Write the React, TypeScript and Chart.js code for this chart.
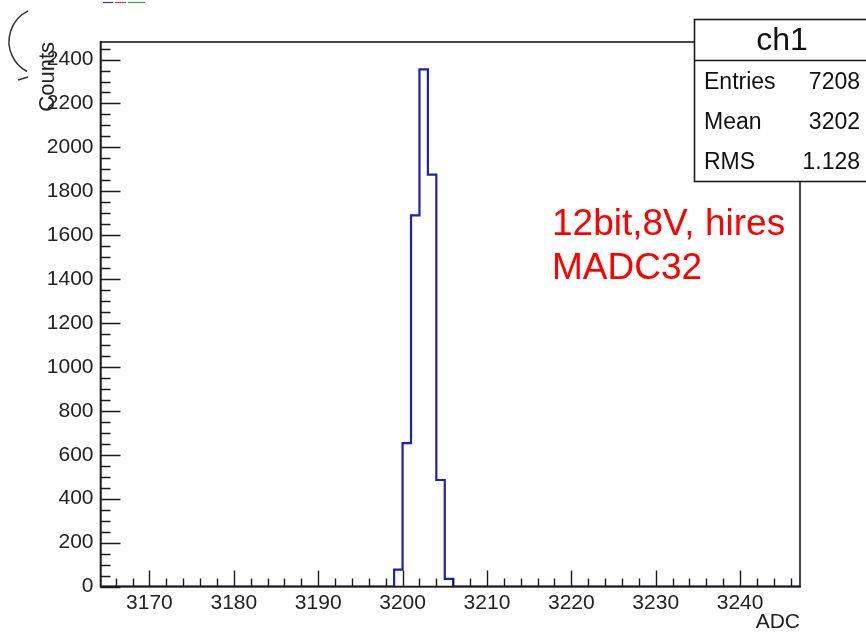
import React, { useEffect, useRef } from 'react';
import { Chart, registerables } from 'chart.js';

Chart.register(...registerables);

// ---- data ----
const binLowEdges = [3199, 3200, 3201, 3202, 3203, 3204, 3205];
const binCounts = [77, 653, 1690, 2355, 1876, 485, 35];
const binWidth = 1;
const xMin = 3164.2;
const xMax = 3247.1;
const yMin = 0;
const yMax = 2480;
const xMajorStep = 10;
const xMinorStep = 2;
const yMajorStep = 200;
const yMinorStep = 50;
const xTitle = 'ADC';
const yTitle = 'Counts';
const statsTitle = 'ch1';
const statsLabels = ['Entries', 'Mean', 'RMS'];
const statsValues = ['7208', '3202', '1.128'];
const noteLines = ['12bit,8V, hires', 'MADC32'];

const FONT = '"Liberation Sans", Arial, Helvetica, sans-serif';
const AXIS = '#1a1a1a';

const rootPlugin = {
  id: 'rootDecor',
  afterDraw(chart: any) {
    const { ctx, chartArea } = chart;
    const xs = chart.scales.x;
    const ys = chart.scales.y;
    const { left, right, top, bottom } = chartArea;
    ctx.save();
    // frame
    ctx.strokeStyle = AXIS;
    ctx.lineWidth = 1.6;
    ctx.strokeRect(left, top, right - left, bottom - top);
    // ticks (inward)
    ctx.lineWidth = 1.4;
    ctx.beginPath();
    const xStart = Math.ceil(xMin / xMinorStep) * xMinorStep;
    for (let v = xStart; v <= xMax; v += xMinorStep) {
      const px = Math.round(xs.getPixelForValue(v)) + 0.5;
      const major = Math.abs(v % xMajorStep) < 1e-6;
      const len = major ? 16 : 8;
      ctx.moveTo(px, bottom);
      ctx.lineTo(px, bottom - len);
    }
    for (let v = yMin; v <= yMax; v += yMinorStep) {
      const py = Math.round(ys.getPixelForValue(v)) + 0.5;
      const major = Math.abs(v % yMajorStep) < 1e-6;
      const len = major ? 20 : 10;
      ctx.moveTo(left, py);
      ctx.lineTo(left + len, py);
    }
    ctx.stroke();

    // stats box
    const bx = 694.5, by = 19.5, bw = 190, bh = 162, div = 60.5;
    ctx.fillStyle = '#ffffff';
    ctx.fillRect(bx, by, bw, bh);
    ctx.lineWidth = 1.6;
    ctx.strokeStyle = AXIS;
    ctx.strokeRect(bx, by, bw, bh);
    ctx.beginPath();
    ctx.moveTo(bx, div);
    ctx.lineTo(bx + bw, div);
    ctx.stroke();
    ctx.fillStyle = '#111';
    ctx.textBaseline = 'alphabetic';
    ctx.font = `32px ${FONT}`;
    ctx.textAlign = 'center';
    ctx.fillText(statsTitle, 782, 50);
    ctx.font = `23px ${FONT}`;
    const rowBase = [89, 129, 169];
    statsLabels.forEach((l, i) => {
      ctx.textAlign = 'left';
      ctx.fillText(l, 704, rowBase[i]);
      ctx.textAlign = 'right';
      ctx.fillText(statsValues[i], 860, rowBase[i]);
    });

    // red note
    ctx.fillStyle = '#ff0000';
    ctx.font = `37px ${FONT}`;
    ctx.textAlign = 'left';
    ctx.fillText(noteLines[0], 552, 235);
    ctx.fillText(noteLines[1], 552, 279);

    // cropped-slide artifacts
    ctx.strokeStyle = '#333';
    ctx.lineWidth = 1.5;
    ctx.beginPath();
    ctx.arc(43, 41.5, 34, (-116 * Math.PI) / 180, (118 * Math.PI) / 180, true);
    ctx.stroke();
    ctx.beginPath();
    ctx.moveTo(18, 80);
    ctx.lineTo(28, 77);
    ctx.stroke();
    ctx.lineWidth = 1.2;
    const dashes: [number, number, string][] = [
      [103, 113, '#3a3aa0'],
      [115, 126, '#d04040'],
      [128, 145, '#40a040'],
    ];
    dashes.forEach(([a, b, c]) => {
      ctx.strokeStyle = c;
      ctx.beginPath();
      ctx.moveTo(a, 2.5);
      ctx.lineTo(b, 2.5);
      ctx.stroke();
    });
    ctx.restore();
  },
};

export default function App() {
  const ref = useRef<HTMLCanvasElement | null>(null);
  useEffect(() => {
    if (!ref.current) return;
    const points = [
      { x: xMin, y: 0 },
      ...binLowEdges.map((x, i) => ({ x, y: binCounts[i] })),
      { x: binLowEdges[binLowEdges.length - 1] + binWidth, y: 0 },
      { x: xMax, y: 0 },
    ];
    const chart = new Chart(ref.current, {
      type: 'line',
      data: {
        datasets: [
          {
            data: points,
            stepped: 'before',
            borderColor: '#1f1fb4',
            borderWidth: 2.2,
            pointRadius: 0,
            fill: false,
          },
        ],
      },
      options: {
        animation: false,
        responsive: false,
        layout: { padding: { top: 42, right: 66, left: 0, bottom: 0 } },
        plugins: { legend: { display: false }, tooltip: { enabled: false } },
        scales: {
          x: {
            type: 'linear',
            min: xMin,
            max: xMax,
            grid: { display: false, drawTicks: false },
            border: { display: true, color: AXIS, width: 1.6 },
            ticks: {
              stepSize: xMajorStep,
              includeBounds: false,
              padding: 4,
              color: '#222',
              font: { family: FONT, size: 21 },
              maxRotation: 0,
              autoSkip: false,
              callback: (v: any) => String(v),
            },
            title: {
              display: true,
              text: xTitle,
              align: 'end',
              color: '#222',
              font: { family: FONT, size: 21 },
              padding: { top: 0, bottom: 1 },
            },
            afterFit: (s: any) => {
              s.height = 49.5;
            },
          },
          y: {
            type: 'linear',
            min: yMin,
            max: yMax,
            grid: { display: false, drawTicks: false },
            border: { display: true, color: AXIS, width: 1.6 },
            ticks: {
              stepSize: yMajorStep,
              includeBounds: false,
              padding: 7,
              color: '#222',
              font: { family: FONT, size: 21 },
              autoSkip: false,
              callback: (v: any) => String(v),
            },
            title: {
              display: true,
              text: yTitle,
              align: 'end',
              color: '#222',
              font: { family: FONT, size: 22 },
              padding: { top: 35, bottom: 0 },
            },
            afterFit: (s: any) => {
              s.width = 100.5;
            },
          },
        },
      },
      plugins: [rootPlugin],
    });
    return () => chart.destroy();
  }, []);
  return (
    <div style={{ position: 'fixed', left: 0, top: 0, width: 866, height: 636, background: '#fff' }}>
      <canvas ref={ref} width={866} height={636} style={{ display: 'block' }} />
    </div>
  );
}
